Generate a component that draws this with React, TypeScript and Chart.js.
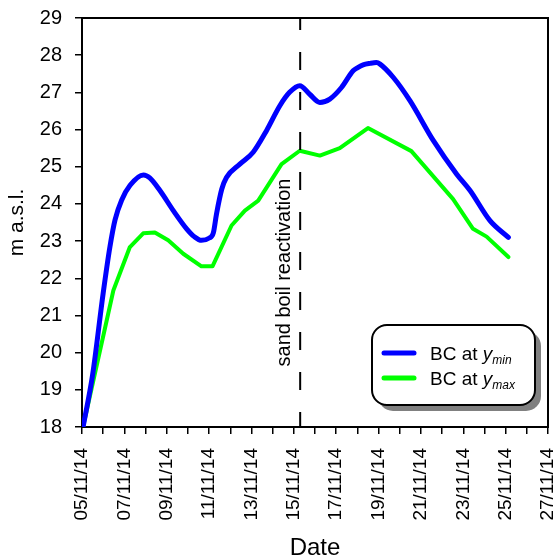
import { useEffect, useRef } from 'react';
import { Chart, registerables } from 'chart.js';

Chart.register(...registerables);

const FONT = '"Liberation Sans", Arial, Helvetica, sans-serif';

// Tick labels for the date axis (one every two days, day 0 = 05/11/14)
const dateLabels = [
  '05/11/14', '07/11/14', '09/11/14', '11/11/14', '13/11/14', '15/11/14',
  '17/11/14', '19/11/14', '21/11/14', '23/11/14', '25/11/14', '27/11/14',
];

// BC at y_min (days since 05/11/14, m a.s.l.)
const blueDays = [
  0.05, 0.5, 1.0, 1.32, 1.56, 1.87, 2.27, 2.9, 3.2, 3.68, 4.31, 4.94, 5.3, 5.64,
  6.0, 6.2, 6.35, 6.6, 6.82, 7.45, 8.08, 8.71, 9.34, 9.8, 10.28, 10.75, 11.23,
  11.7, 12.25, 12.8, 13.0, 13.27, 13.6, 13.9, 14.07, 14.7, 15.49, 16.59, 17.69,
  18.32, 19.26, 20.13,
];
const blueLevels = [
  18.0, 19.4, 21.6, 22.85, 23.57, 24.1, 24.5, 24.78, 24.7, 24.36, 23.82, 23.33,
  23.12, 23.02, 23.08, 23.22, 23.73, 24.4, 24.71, 25.07, 25.39, 25.97, 26.64,
  27.0, 27.18, 26.95, 26.73, 26.82, 27.13, 27.58, 27.66, 27.74, 27.78, 27.8,
  27.76, 27.4, 26.77, 25.7, 24.8, 24.36, 23.55, 23.1,
];

// BC at y_max
const greenDays = [
  0.05, 1.48, 2.26, 2.89, 3.44, 4.07, 4.78, 5.64, 6.16, 7.06, 7.69, 8.32, 9.42,
  10.28, 11.23, 12.17, 13.5, 15.55, 17.52, 18.46, 19.1, 20.13,
];
const greenLevels = [
  18.0, 21.67, 22.84, 23.21, 23.23, 23.02, 22.66, 22.32, 22.32, 23.42, 23.82,
  24.09, 25.07, 25.43, 25.3, 25.5, 26.04, 25.42, 24.13, 23.33, 23.12, 22.57,
];

const seriesPrefix = ['BC at ', 'BC at '];
const seriesVar = ['y', 'y'];
const seriesSub = ['min', 'max'];
const seriesColors = ['#0000ff', '#00ff00'];

const reactivationDay = 10.3;
const eventLabel = 'sand boil reactivation';
const xTitle = 'Date';
const yTitle = 'm a.s.l.';

const overlayPlugin = {
  id: 'overlay',
  afterDatasetsDraw(chart: any) {
    const { ctx, chartArea: a, scales } = chart;
    const lx = scales.x.getPixelForValue(reactivationDay);
    ctx.save();
    ctx.strokeStyle = '#000';
    ctx.lineWidth = 2;
    ctx.setLineDash([18, 22]);
    ctx.lineDashOffset = 6;
    ctx.beginPath();
    ctx.moveTo(lx, a.top);
    ctx.lineTo(lx, a.bottom);
    ctx.stroke();
    ctx.setLineDash([]);
    ctx.translate(lx - 10, (a.top + a.bottom) / 2 + 50);
    ctx.rotate(-Math.PI / 2);
    ctx.font = `20px ${FONT}`;
    ctx.fillStyle = '#000';
    ctx.textAlign = 'center';
    ctx.textBaseline = 'alphabetic';
    ctx.fillText(eventLabel, 0, 0);
    ctx.restore();
  },
  afterDraw(chart: any) {
    const { ctx, chartArea: a } = chart;
    ctx.save();
    // frame (top and right)
    ctx.strokeStyle = '#000';
    ctx.lineWidth = 2;
    ctx.beginPath();
    ctx.moveTo(a.left - 1, a.top);
    ctx.lineTo(a.right, a.top);
    ctx.lineTo(a.right, a.bottom + 1);
    ctx.stroke();

    // legend
    const bw = 163;
    const bh = 80;
    const bx = a.right - 176;
    const by = a.bottom - 102;
    const r = 15;
    ctx.fillStyle = '#808080';
    ctx.beginPath();
    ctx.roundRect(bx + 6, by + 6, bw, bh, r);
    ctx.fill();
    ctx.fillStyle = '#ffffff';
    ctx.beginPath();
    ctx.roundRect(bx, by, bw, bh, r);
    ctx.fill();
    ctx.lineWidth = 2;
    ctx.strokeStyle = '#000';
    ctx.stroke();

    chart.data.datasets.forEach((ds: any, i: number) => {
      const yy = by + 28 + i * 25;
      ctx.strokeStyle = ds.borderColor;
      ctx.lineWidth = 5;
      ctx.lineCap = 'round';
      ctx.beginPath();
      ctx.moveTo(bx + 12, yy);
      ctx.lineTo(bx + 42, yy);
      ctx.stroke();
      let tx = bx + 58;
      const base = yy + 7;
      ctx.fillStyle = '#000';
      ctx.textAlign = 'left';
      ctx.textBaseline = 'alphabetic';
      ctx.font = `19px ${FONT}`;
      ctx.fillText(seriesPrefix[i], tx, base);
      tx += ctx.measureText(seriesPrefix[i]).width;
      ctx.font = `italic 19px ${FONT}`;
      ctx.fillText(seriesVar[i], tx, base);
      tx += ctx.measureText(seriesVar[i]).width;
      ctx.font = `italic 12px ${FONT}`;
      ctx.fillText(seriesSub[i], tx, base + 4);
    });
    ctx.restore();
  },
};

export default function App() {
  const canvasRef = useRef<HTMLCanvasElement | null>(null);

  useEffect(() => {
    if (!canvasRef.current) return;
    Chart.defaults.font.family = FONT;
    Chart.defaults.color = '#000';

    const axisGrid = {
      display: true,
      drawOnChartArea: false,
      drawTicks: true,
      tickLength: 7,
      color: '#000',
      lineWidth: 1.5,
    };
    const axisBorder = { display: true, color: '#000', width: 2 };

    const chart = new Chart(canvasRef.current, {
      type: 'line',
      data: {
        datasets: [
          {
            label: seriesPrefix[0] + seriesVar[0] + seriesSub[0],
            data: blueDays.map((d, i) => ({ x: d, y: blueLevels[i] })),
            borderColor: seriesColors[0],
            backgroundColor: seriesColors[0],
            borderWidth: 5,
            pointRadius: 0,
            cubicInterpolationMode: 'monotone',
            borderJoinStyle: 'round',
            borderCapStyle: 'round',
          },
          {
            label: seriesPrefix[1] + seriesVar[1] + seriesSub[1],
            data: greenDays.map((d, i) => ({ x: d, y: greenLevels[i] })),
            borderColor: seriesColors[1],
            backgroundColor: seriesColors[1],
            borderWidth: 4,
            pointRadius: 0,
            tension: 0,
            borderJoinStyle: 'round',
            borderCapStyle: 'round',
          },
        ],
      },
      options: {
        responsive: false,
        animation: false,
        layout: { padding: { top: 18, right: 7, left: 0, bottom: 0 } },
        plugins: { legend: { display: false }, tooltip: { enabled: false } },
        scales: {
          x: {
            type: 'linear',
            min: 0,
            max: 22,
            afterFit(s: any) {
              s.height = 133;
              s.paddingLeft = 0;
              s.paddingRight = 0;
            },
            ticks: {
              stepSize: 1,
              autoSkip: false,
              maxRotation: 90,
              minRotation: 90,
              padding: 14,
              color: '#000',
              font: { size: 19 },
              callback: (v: any) => (Number(v) % 2 === 0 ? dateLabels[Number(v) / 2] : ''),
            },
            grid: axisGrid,
            border: axisBorder,
            title: {
              display: true,
              text: xTitle,
              color: '#000',
              font: { size: 24, lineHeight: 1 },
              padding: { top: 0, bottom: 0 },
            },
          },
          y: {
            type: 'linear',
            min: 18,
            max: 29,
            afterFit(s: any) {
              s.width = 82;
              s.paddingTop = 0;
              s.paddingBottom = 0;
            },
            ticks: {
              stepSize: 0.5,
              padding: 13,
              color: '#000',
              font: { size: 20 },
              callback: (v: any) => (Number.isInteger(Number(v)) ? String(v) : ''),
            },
            grid: axisGrid,
            border: axisBorder,
            title: {
              display: true,
              text: yTitle,
              color: '#000',
              font: { size: 21, lineHeight: 1 },
              padding: { top: 7, bottom: 0 },
            },
          },
        },
      },
      plugins: [overlayPlugin],
    } as any);

    return () => chart.destroy();
  }, []);

  return (
    <div style={{ position: 'fixed', left: 0, top: 0, width: 555, height: 560, background: '#fff' }}>
      <canvas ref={canvasRef} width={555} height={560} style={{ display: 'block' }} />
    </div>
  );
}
